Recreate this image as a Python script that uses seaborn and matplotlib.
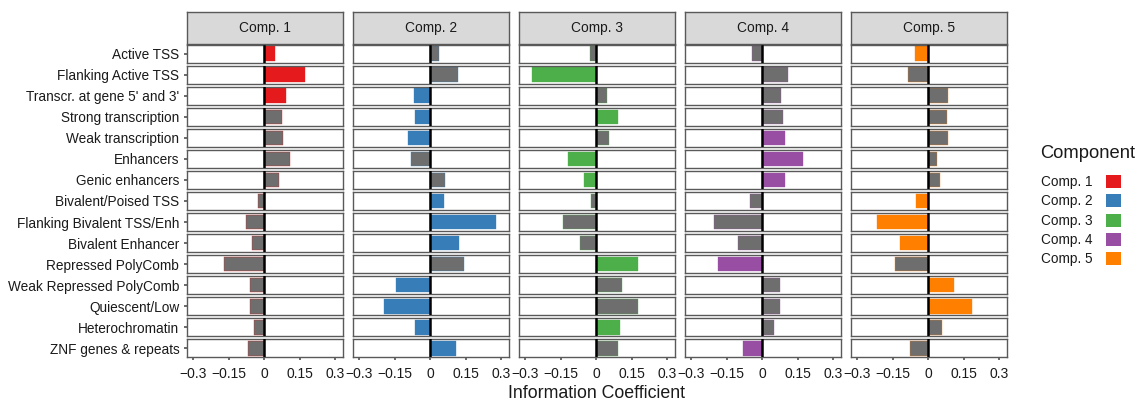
import matplotlib
matplotlib.use("Agg")
import matplotlib.pyplot as plt
from matplotlib.patches import Patch
import numpy as np
import pandas as pd
import seaborn as sns

# Chromatin states, top to bottom
states = [
    "Active TSS", "Flanking Active TSS", "Transcr. at gene 5' and 3'",
    "Strong transcription", "Weak transcription", "Enhancers",
    "Genic enhancers", "Bivalent/Poised TSS", "Flanking Bivalent TSS/Enh",
    "Bivalent Enhancer", "Repressed PolyComb", "Weak Repressed PolyComb",
    "Quiescent/Low", "Heterochromatin", "ZNF genes & repeats",
]
components = ["Comp. 1", "Comp. 2", "Comp. 3", "Comp. 4", "Comp. 5"]

# Information coefficient per state for each component
ic_comp1 = [0.048, 0.172, 0.092, 0.075, 0.080, 0.111, 0.063, -0.027, -0.077, -0.049, -0.168, -0.059, -0.058, -0.042, -0.069]
ic_comp2 = [0.038, 0.117, -0.068, -0.062, -0.095, -0.082, 0.062, 0.059, 0.281, 0.124, 0.144, -0.142, -0.194, -0.063, 0.108]
ic_comp3 = [-0.024, -0.273, 0.046, 0.093, 0.055, -0.118, -0.052, -0.023, -0.141, -0.068, 0.176, 0.110, 0.179, 0.100, 0.092]
ic_comp4 = [-0.041, 0.110, 0.080, 0.090, 0.096, 0.175, 0.098, -0.052, -0.204, -0.101, -0.185, 0.077, 0.076, 0.049, -0.080]
ic_comp5 = [-0.055, -0.086, 0.085, 0.079, 0.085, 0.037, 0.051, -0.052, -0.217, -0.117, -0.138, 0.110, 0.186, 0.059, -0.077]

# Significance flags (1 = significant, drawn in component colour)
sig_comp1 = [1, 1, 1, 0, 0, 0, 0, 0, 0, 0, 0, 0, 0, 0, 0]
sig_comp2 = [0, 0, 1, 1, 1, 0, 0, 1, 1, 1, 0, 1, 1, 1, 1]
sig_comp3 = [0, 1, 0, 1, 0, 1, 1, 0, 0, 0, 1, 0, 0, 1, 0]
sig_comp4 = [0, 0, 0, 0, 1, 1, 1, 0, 0, 0, 1, 0, 0, 0, 1]
sig_comp5 = [1, 0, 0, 0, 0, 0, 0, 1, 1, 1, 0, 1, 1, 0, 0]

x_ticks = [-0.3, -0.15, 0, 0.15, 0.3]
x_tick_labels = ["\u22120.3", "\u22120.15", "0", "0.15", "0.3"]

comp_colors = ["#E41A1C", "#377EB8", "#4DAF4A", "#984EA3", "#FF7F00"]
nonsig_color = "#6E6E6E"

ic_all = [ic_comp1, ic_comp2, ic_comp3, ic_comp4, ic_comp5]
sig_all = [sig_comp1, sig_comp2, sig_comp3, sig_comp4, sig_comp5]
df = pd.DataFrame([
    {"state": s, "comp": c, "ic": ic_all[j][i], "sig": sig_all[j][i]}
    for j, c in enumerate(components) for i, s in enumerate(states)
])

sns.set_theme(style="white")
plt.rcParams["font.family"] = ["Liberation Sans", "DejaVu Sans"]

W, H = 1141, 405
fig, axes = plt.subplots(len(states), len(components), figsize=(W / 100, H / 100),
                         dpi=100, sharex=True)
fig.subplots_adjust(left=187 / W, right=1007 / W, top=1 - 44.5 / H,
                    bottom=1 - 357.5 / H, wspace=10 / 156, hspace=3 / 18)

border = "#595959"
text_col = "#1A1A1A"

for j, comp in enumerate(components):
    for i, state in enumerate(states):
        ax = axes[i, j]
        sub = df[(df["comp"] == comp) & (df["state"] == state)]
        fill = comp_colors[j] if sub["sig"].iloc[0] else nonsig_color
        sns.barplot(data=sub, x="ic", y="state", orient="h", color=fill,
                    saturation=1, width=0.8, edgecolor=comp_colors[j],
                    linewidth=0.25, ax=ax)
        ax.axvline(0, color="black", lw=1.8, zorder=5)
        ax.set_xlim(-0.326, 0.334)
        ax.set_xlabel("")
        ax.set_ylabel("")
        ax.grid(False)
        ax.set_facecolor("white")
        for sp in ax.spines.values():
            sp.set_visible(True)
            sp.set_color(border)
            sp.set_linewidth(1.0)
        ax.tick_params(axis="y", length=2.5, color=border, pad=3,
                       labelsize=9.8, labelcolor=text_col, left=(j == 0))
        if j != 0:
            ax.set_yticks([])
        ax.set_xticks(x_ticks)
        if i == len(states) - 1:
            ax.set_xticklabels(x_tick_labels)
            ax.tick_params(axis="x", bottom=True, length=2.5, color=border,
                           pad=4, labelsize=10, labelcolor=text_col)
        else:
            ax.tick_params(axis="x", bottom=False, labelbottom=False)

# Facet strips above each column
for j, comp in enumerate(components):
    pos = axes[0, j].get_position()
    sax = fig.add_axes([pos.x0, 1 - 43.5 / H, pos.width, 31.5 / H])
    sax.set_facecolor("#D9D9D9")
    sax.set_xticks([])
    sax.set_yticks([])
    for sp in sax.spines.values():
        sp.set_visible(True)
        sp.set_color(border)
        sp.set_linewidth(1.0)
    sax.text(0.5, 0.5, comp, ha="center", va="center", fontsize=9.9,
             color=text_col, transform=sax.transAxes)

fig.text(597 / W, 1 - 393 / H, "Information Coefficient", ha="center",
         va="center", fontsize=12.8, color=text_col)

# Component legend: title, then label / colour key rows
fig.text(1040 / W, 1 - 154 / H, "Component", ha="left", va="center",
         fontsize=13.2, color=text_col)
handles = [Patch(facecolor=c, edgecolor="none") for c in comp_colors]
leg = fig.legend(handles, components, loc="upper left",
                 bbox_to_anchor=(1041 / W, 1 - 175 / H), frameon=False,
                 markerfirst=False, fontsize=9.8,
                 handlelength=1.1, handleheight=1.1, handletextpad=1.0,
                 labelspacing=0.38, borderaxespad=0, borderpad=0)
for t in leg.get_texts():
    t.set_color(text_col)

fig.savefig("out.png", dpi=100)
